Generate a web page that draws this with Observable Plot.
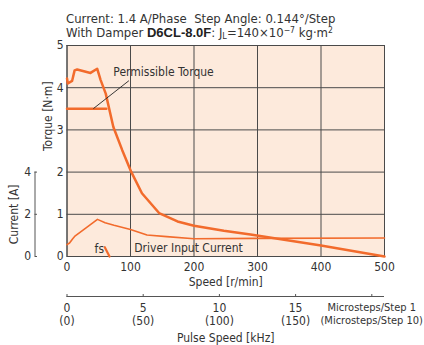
<!DOCTYPE html>
<html>
<head>
<meta charset="utf-8">
<script src="https://cdn.jsdelivr.net/npm/d3@7"></script>
<script src="https://cdn.jsdelivr.net/npm/@observablehq/plot@0.6"></script>
<style>
  html, body { margin: 0; padding: 0; background: #fff; }
  #wrap { position: relative; width: 424px; height: 345px; overflow: hidden; }
  .ttl { position: absolute; left: 66px; font-family: "Liberation Sans Narrow", "DejaVu Sans Condensed", "Roboto Condensed", sans-serif; font-stretch: condensed; font-size: 13px; line-height: 14px; color: #333; white-space: nowrap; }
  .ttl b { font-family: "Liberation Sans", Arial, sans-serif; font-stretch: normal; font-weight: bold; color: #222; }
  .ttl sub { font-size: 9px; vertical-align: -2px; line-height: 0; }
  .ttl sup { font-size: 8.5px; vertical-align: 4px; line-height: 0; }
  #chart { position: absolute; left: 0; top: 40px; }
</style>
</head>
<body>
<div id="wrap">
  <div class="ttl" style="top:11.5px">Current: 1.4 A/Phase&nbsp;&nbsp;Step Angle: 0.144°/Step</div>
  <div class="ttl" style="top:26px">With Damper <b>D6CL-8.0F</b>: J<sub>L</sub>=140×10<sup>−7</sup> kg·m<sup>2</sup></div>
  <div id="chart"></div>
</div>
<script>
// ---- data ----
const speedTicks = [0, 100, 200, 300, 400, 500];
const torqueTicks = [0, 1, 2, 3, 4, 5];
const currentTicks = [0, 2, 4];
const pulseTicks = [0, 5, 10, 15, 20];
const pulseLabels = ["0\n(0)", "5\n(50)", "10\n(100)", "15\n(150)", ""];
const microLabels = ["Microsteps/Step 1", "(Microsteps/Step 10)"];

// pull-out torque [N·m] vs speed [r/min]
const torqueSpeed = [0, 1.3, 8, 12, 16, 37, 47.5, 53, 61, 73, 87, 101, 118, 145, 174, 200, 247, 289, 400, 500];
const torqueValue = [4.22, 4.10, 4.16, 4.41, 4.43, 4.35, 4.45, 4.18, 3.86, 3.07, 2.52, 2.01, 1.50, 1.03, 0.83, 0.73, 0.61, 0.52, 0.26, 0.0];

// permissible torque
const permSpeed = [0, 62];
const permValue = [3.5, 3.5];

// driver input current [A]
const currentSpeed = [0, 4, 9, 13, 30, 48, 60, 74, 100, 126, 157, 200, 300, 500];
const currentValue = [0.56, 0.64, 0.84, 0.98, 1.36, 1.76, 1.60, 1.48, 1.28, 1.02, 0.94, 0.84, 0.86, 0.88];

// fs (max starting frequency) marker segment
const fsSpeed = [59.5, 67];
const fsValue = [0.22, 0.0];

// annotations
const labelText = ["Permissible Torque", "Driver Input Current", "fs"];
const labelSpeed = [73, 106, 43.5];
const labelTorque = [4.36, 0.2, 0.18];
const leaderSpeed = [42, 97];
const leaderTorque = [3.51, 4.16];

// unit conversions
const stepAngle = 0.144;                          // deg/step
const rpmPerKHz = stepAngle / 360 * 1000 * 60;    // 24 r/min per kHz
const ampsPerNm = 2;                              // current axis 0–4 A spans 0–2 N·m

// ---- styles ----
const orange = "#f26b2c";
const gridC = "#4a4a4a";
const bg = "#fdeadc";
const font = '"Liberation Sans Narrow", "DejaVu Sans Condensed", "Roboto Condensed", sans-serif';
const fs = 12;

const toRows = (xs, ys) => xs.map((x, i) => ({x, y: ys[i]}));
const lastPulse = pulseTicks[pulseTicks.length - 1] * rpmPerKHz;

const chart = Plot.plot({
  width: 424,
  height: 305,
  marginTop: 5,
  marginBottom: 89,
  marginLeft: 66.5,
  marginRight: 40,
  x: {domain: [0, 500]},
  y: {domain: [0, 5]},
  style: {fontFamily: font, fontSize: fs + "px", color: "#333", background: "transparent", overflow: "visible"},
  marks: [
    Plot.frame({fill: bg}),
    Plot.gridX(speedTicks, {stroke: gridC, strokeOpacity: 1, strokeWidth: 1}),
    Plot.gridY(torqueTicks, {stroke: gridC, strokeOpacity: 1, strokeWidth: 1}),
    Plot.frame({stroke: gridC, strokeWidth: 1}),
    // primary axes
    Plot.axisX(speedTicks, {tickSize: 0, tickPadding: 6, label: null, fontSize: fs}),
    Plot.axisY(torqueTicks, {tickSize: 0, tickPadding: 3.5, label: null, fontSize: fs}),
    // current axis (left, offset)
    Plot.ruleX([0], {y1: 0, y2: currentTicks[currentTicks.length - 1] / ampsPerNm, dx: -32, stroke: "#555", strokeWidth: 1}),
    Plot.axisY(currentTicks.map(d => d / ampsPerNm), {anchor: "left", dx: -29.5, tickSize: 2.5, tickPadding: 4, stroke: "#555",
      tickFormat: d => String(Math.round(d * ampsPerNm)), label: null, fontSize: fs}),
    // pulse speed axis (below)
    Plot.ruleY([0], {dy: 40, stroke: "#555", strokeWidth: 1}),
    Plot.axisX(pulseTicks.map(d => d * rpmPerKHz), {anchor: "top", dy: 251, tickSize: 3, stroke: "#555", tickFormat: () => "", label: null}),
    Plot.axisX(pulseTicks.map(d => d * rpmPerKHz), {anchor: "bottom", dy: 40, tickSize: 0, tickPadding: 6, label: null, lineHeight: 1.08, fontSize: fs,
      tickFormat: (d, i) => pulseLabels[i]}),
    Plot.text([microLabels[0]], {x: [lastPulse], y: [0], dy: 46.5, lineAnchor: "top", textAnchor: "middle", fontSize: 11, fill: "#333"}),
    Plot.text([microLabels[1]], {frameAnchor: "bottom-right", dx: 38.5, dy: 59.5, lineAnchor: "top", textAnchor: "end", fontSize: 11, fill: "#333"}),
    // axis titles
    Plot.text(["Speed [r/min]"], {frameAnchor: "bottom", dy: 29, lineAnchor: "bottom", fontSize: fs, fill: "#333"}),
    Plot.text(["Pulse Speed [kHz]"], {frameAnchor: "bottom", dy: 85, lineAnchor: "bottom", fontSize: fs, fill: "#333"}),
    Plot.text(["Torque [N·m]"], {frameAnchor: "left", dx: -18.5, rotate: -90, lineAnchor: "middle", fontSize: fs, fill: "#333"}),
    Plot.text(["Current [A]"], {x: [0], y: [currentTicks[currentTicks.length - 1] / ampsPerNm / 2], dx: -52.5, rotate: -90, lineAnchor: "middle", fontSize: fs, fill: "#333"}),
    // curves
    Plot.line(toRows(currentSpeed, currentValue.map(a => a / ampsPerNm)), {x: "x", y: "y", stroke: orange, strokeWidth: 1.6, curve: "linear"}),
    Plot.line(toRows(permSpeed, permValue), {x: "x", y: "y", stroke: orange, strokeWidth: 2.5}),
    Plot.line(toRows(torqueSpeed, torqueValue), {x: "x", y: "y", stroke: orange, strokeWidth: 2.5, strokeLinejoin: "round"}),
    Plot.line(toRows(fsSpeed, fsValue), {x: "x", y: "y", stroke: orange, strokeWidth: 2.2}),
    // annotations
    Plot.line(toRows(leaderSpeed, leaderTorque), {x: "x", y: "y", stroke: "#222", strokeWidth: 0.9}),
    Plot.text(labelText.map((t, i) => ({t, x: labelSpeed[i], y: labelTorque[i]})), {x: "x", y: "y", text: "t", textAnchor: "start", lineAnchor: "middle", fontSize: fs, fill: "#333"})
  ]
});
document.getElementById("chart").appendChild(chart);
</script>
</body>
</html>
